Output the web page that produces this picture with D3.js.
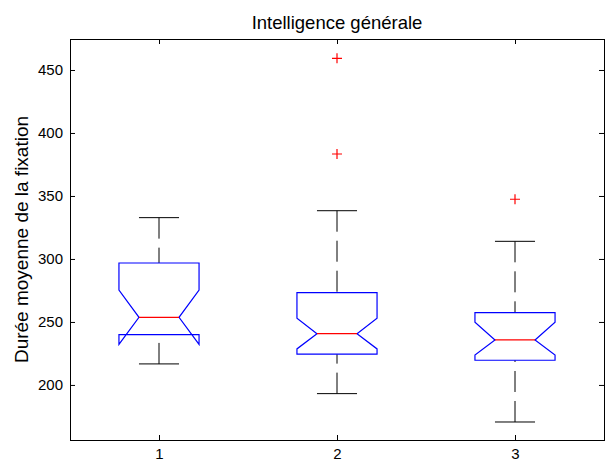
<!DOCTYPE html>
<html>
<head>
<meta charset="utf-8">
<script src="https://cdn.jsdelivr.net/npm/d3@7"></script>
<style>
  html, body { margin: 0; padding: 0; background: #fff; }
  svg { display: block; }
  text { font-family: "Liberation Sans", Arial, sans-serif; }
</style>
</head>
<body>
<svg id="chart" width="608" height="466"></svg>
<script>
// ---- data ----
const categories = ["1", "2", "3"];
const q1Values      = [239.9, 224.4, 219.6];
const medianValues  = [253.7, 240.7, 235.7];
const q3Values      = [296.8, 273.3, 257.4];
const notchLow      = [232.2, 228.6, 223.8];
const notchHigh     = [275.3, 252.9, 249.8];
const whiskerLow    = [216.7, 193.1, 170.6];
const whiskerHigh   = [332.8, 338.3, 314.0];
const outlierValues = [[], [383.3, 459.3], [347.4]];
const yTickValues   = [200, 250, 300, 350, 400, 450];
const titleText = "Intelligence générale";
const yLabelText = "Durée moyenne de la fixation";

(function () {
// ---- layout ----
const mLeft = 70, mRight = 604, mTop = 39, mBottom = 440;
const boxHalf = 0.225, notchHalf = 0.1125, capHalf = 0.1125;

const svg = d3.select("#chart");
const x = d3.scaleLinear().domain([0.5, 3.5]).range([mLeft, mRight]);
const y = d3.scaleLinear().domain([156.3, 474.6]).range([mBottom, mTop]);

const data = categories.map((c, i) => ({
  pos: i + 1, label: c,
  q1: q1Values[i], med: medianValues[i], q3: q3Values[i],
  nlo: notchLow[i], nhi: notchHigh[i],
  wlo: whiskerLow[i], whi: whiskerHigh[i],
  out: outlierValues[i]
}));

const tickPos = data.map(d => d.pos);
const fmtX = (v) => categories[v - 1];

function styleAxis(g) {
  g.select(".domain").remove();
  g.selectAll("line").attr("stroke", "#000");
  g.selectAll("text").attr("fill", "#000").attr("font-size", "15px")
    .attr("font-family", "\"Liberation Sans\", Arial, sans-serif");
}

svg.append("g").attr("transform", `translate(${mLeft},0)`)
  .call(d3.axisLeft(y).tickValues(yTickValues).tickSize(-5).tickPadding(7))
  .call(styleAxis);
svg.append("g").attr("transform", `translate(${mRight},0)`)
  .call(d3.axisRight(y).tickValues(yTickValues).tickSize(-5).tickFormat(""))
  .call(styleAxis);
svg.append("g").attr("transform", `translate(0,${mBottom})`)
  .call(d3.axisBottom(x).tickValues(tickPos).tickFormat(fmtX).tickSize(-5).tickPadding(8))
  .call(styleAxis);
svg.append("g").attr("transform", `translate(0,${mTop})`)
  .call(d3.axisTop(x).tickValues(tickPos).tickSize(-5).tickFormat(""))
  .call(styleAxis);

// frame
svg.append("rect")
  .attr("x", mLeft + 0.5).attr("y", mTop + 0.5)
  .attr("width", mRight - mLeft).attr("height", mBottom - mTop)
  .attr("fill", "none").attr("stroke", "#000").attr("stroke-width", 1);

const plot = svg.append("g");
const groups = plot.selectAll("g.box").data(data).join("g").attr("class", "box");

// whiskers (dashed)
groups.append("line")
  .attr("x1", d => x(d.pos)).attr("x2", d => x(d.pos))
  .attr("y1", d => y(d.whi)).attr("y2", d => y(d.q3))
  .attr("stroke", "#000").attr("stroke-dasharray", "21,9");
groups.append("line")
  .attr("x1", d => x(d.pos)).attr("x2", d => x(d.pos))
  .attr("y1", d => y(d.wlo)).attr("y2", d => y(d.q1))
  .attr("stroke", "#000").attr("stroke-dasharray", "21,9");
// caps
groups.append("line")
  .attr("x1", d => x(d.pos - capHalf)).attr("x2", d => x(d.pos + capHalf))
  .attr("y1", d => y(d.whi)).attr("y2", d => y(d.whi))
  .attr("stroke", "#000");
groups.append("line")
  .attr("x1", d => x(d.pos - capHalf)).attr("x2", d => x(d.pos + capHalf))
  .attr("y1", d => y(d.wlo)).attr("y2", d => y(d.wlo))
  .attr("stroke", "#000");

// notched box
groups.append("path")
  .attr("d", d => {
    const pts = [
      [x(d.pos - boxHalf), y(d.q1)],
      [x(d.pos - boxHalf), y(d.nlo)],
      [x(d.pos - notchHalf), y(d.med)],
      [x(d.pos - boxHalf), y(d.nhi)],
      [x(d.pos - boxHalf), y(d.q3)],
      [x(d.pos + boxHalf), y(d.q3)],
      [x(d.pos + boxHalf), y(d.nhi)],
      [x(d.pos + notchHalf), y(d.med)],
      [x(d.pos + boxHalf), y(d.nlo)],
      [x(d.pos + boxHalf), y(d.q1)]
    ];
    return d3.line()(pts) + "Z";
  })
  .attr("fill", "none").attr("stroke", "#0000ff").attr("stroke-width", 1.2);

// median
groups.append("line")
  .attr("x1", d => x(d.pos - notchHalf)).attr("x2", d => x(d.pos + notchHalf))
  .attr("y1", d => y(d.med)).attr("y2", d => y(d.med))
  .attr("stroke", "#ff0000").attr("stroke-width", 1.2);

// outliers
const outs = data.flatMap(d => d.out.map(v => ({ pos: d.pos, v })));
plot.selectAll("path.out").data(outs).join("path").attr("class", "out")
  .attr("d", d => {
    const cx = x(d.pos), cy = y(d.v), r = 5;
    return `M${cx - r},${cy}H${cx + r}M${cx},${cy - r}V${cy + r}`;
  })
  .attr("stroke", "#ff0000").attr("stroke-width", 1.2).attr("fill", "none");

// title
svg.append("text")
  .attr("x", (mLeft + mRight) / 2).attr("y", 29)
  .attr("text-anchor", "middle")
  .attr("font-size", "18.5px").attr("fill", "#000")
  .text(titleText);

// y label
svg.append("text")
  .attr("transform", `translate(28,${(mTop + mBottom) / 2}) rotate(-90)`)
  .attr("text-anchor", "middle")
  .attr("font-size", "19px").attr("fill", "#000")
  .text(yLabelText);
})();
</script>
</body>
</html>
